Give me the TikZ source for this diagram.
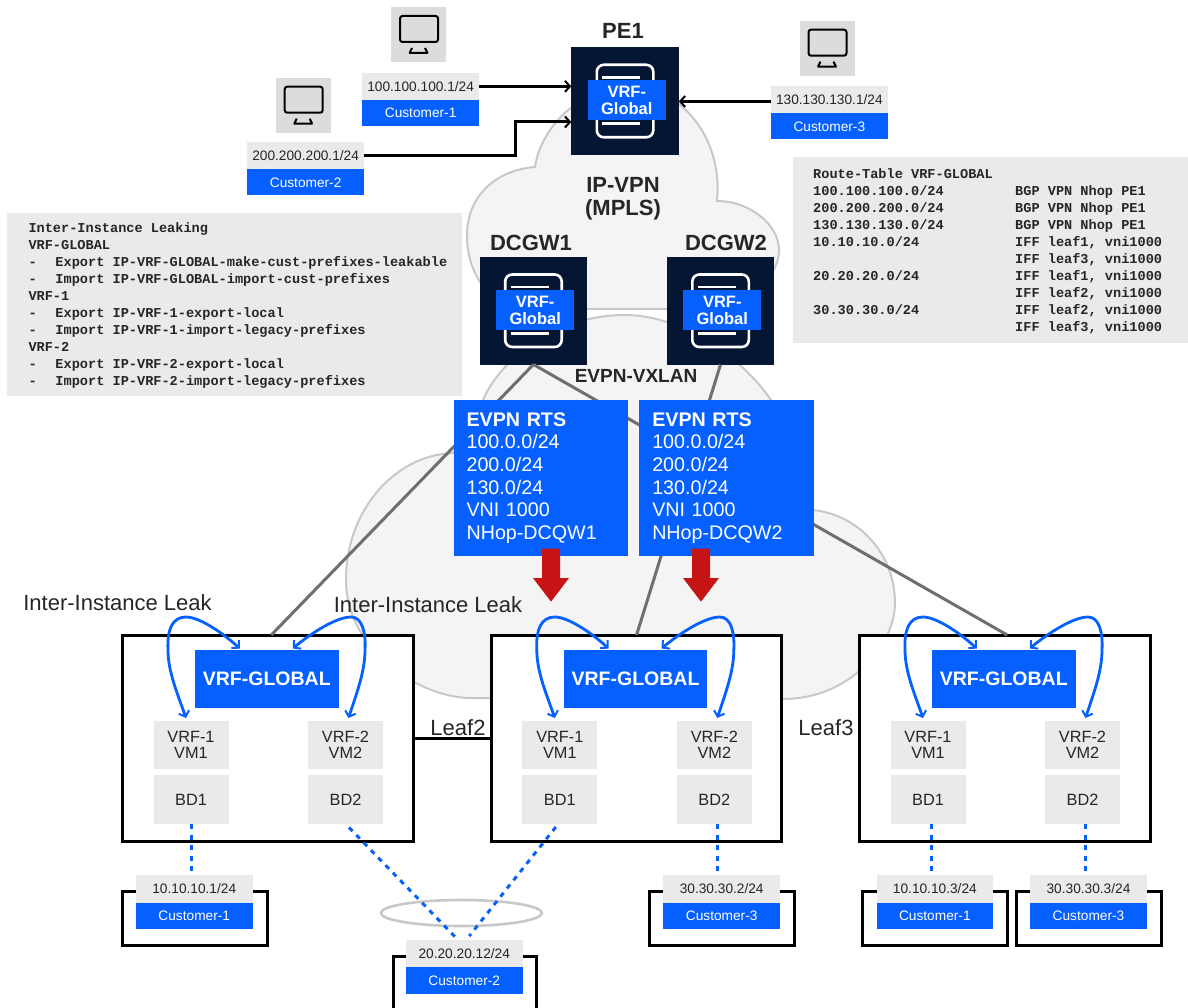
\documentclass[tikz,border=0pt]{standalone}
\usepackage{fontspec}
\setmainfont{Liberation Sans}
\setmonofont{Liberation Mono}
\usetikzlibrary{arrows.meta,calc,shapes.geometric}
\definecolor{ibm}{HTML}{0560FF}
\definecolor{navy}{HTML}{051534}
\definecolor{lab}{HTML}{EAEAEA}
\definecolor{iconbg}{HTML}{DCDCDC}
\definecolor{cloudf}{HTML}{F4F4F4}
\definecolor{cloudl}{HTML}{C8C8C8}
\definecolor{linkg}{HTML}{6F6F6F}
\definecolor{redd}{HTML}{C61414}
\definecolor{ink}{HTML}{262626}
\newcommand{\fs}[2]{\fontsize{#1}{#2}\selectfont}
% box by corners: name, style, x1, y1, x2, y2, text
\newcommand{\bx}[7]{%
  \pgfmathsetmacro\bX{(#3+#5)/2}\pgfmathsetmacro\bY{(#4+#6)/2}%
  \pgfmathsetmacro\bW{#5-#3}\pgfmathsetmacro\bH{#6-#4}%
  \node[#2,minimum width=\bW pt,minimum height=\bH pt] (#1) at (\bX,\bY) {#7};}
% customer tag: prefix name, x1, y1(top of grey), x2, address, customer
\newcommand{\tagbox}[6]{%
  \pgfmathsetmacro\tM{#3+27.3}\pgfmathsetmacro\tB{#3+53.5}%
  \bx{#1ip}{greybox,font=\fs{13.7}{16}}{#2}{#3}{#4}{\tM}{#5}
  \bx{#1cu}{bluebox,font=\fs{13.7}{16}}{#2}{\tM}{#4}{\tB}{#6}}
% monitor icon: name, x, y of top-left
\newcommand{\monitor}[3]{%
  \begin{scope}[shift={(#2,#3)}]
    \bx{#1}{iconbox}{0}{0}{55.3}{55.3}{}
    \draw[black,line width=2pt,rounded corners=2.5pt] (9,9) rectangle (47,35);
    \draw[black,line width=2pt] (18,46) -- (37,46) (18.5,46) -- (21,41) (36.5,46) -- (34,41);
  \end{scope}}
% router icon: name, x, y of top-left
\newcommand{\router}[3]{%
  \begin{scope}[shift={(#2,#3)}]
    \bx{#1}{darkbox}{0}{0}{107.5}{107.5}{}
    \draw[white,line width=2.6pt,rounded corners=7pt] (25.5,17.5) rectangle (82,90);
    \draw[white,line width=2.6pt] (31,30) -- (69,30) (31,76.5) -- (69,76.5);
    \bx{#1v}{bluebox,font=\bfseries\fs{16.5}{17},align=center}{16.5}{33}{94.5}{73}{VRF-\\Global}
  \end{scope}}
\tikzset{
  box0/.style={inner sep=0pt,outer sep=0pt,draw=none},
  greybox/.style={box0,fill=lab,text=ink},
  bluebox/.style={box0,fill=ibm,text=white},
  iconbox/.style={box0,fill=iconbg},
  darkbox/.style={box0,fill=navy},
  codebox/.style={box0,fill=lab},
  codetext/.style={inner sep=0pt,anchor=north west,align=left,text=ink,font=\ttfamily\bfseries\fs{13.6}{17}},
  rtsbox/.style={bluebox,align=left,text width=148.5pt,font=\fs{19.7}{22.6}},
  leafbox/.style={box0,draw=black,line width=3pt,fill=white},
  cloud0/.style={fill=cloudf,draw=cloudl,line width=2pt},
  glink/.style={draw=linkg,line width=3pt},
  blink/.style={draw=black,line width=3pt,-{Straight Barb[length=5pt,width=11pt,line width=2pt]}},
  leak/.style={draw=ibm,line width=2.8pt,{Straight Barb[length=5pt,width=11pt,line width=2pt]}-{Straight Barb[length=5pt,width=11pt,line width=2pt]}},
  dashl/.style={draw=ibm,line width=3pt,dash pattern=on 5pt off 5.5pt},
  hd/.style={inner sep=0pt,text=ink,font=\bfseries\fs{22}{22}},
  ann/.style={inner sep=0pt,text=ink,font=\fs{22}{22}},
  bigred/.style={fill=redd,draw=none},
}
\begin{document}
\begin{tikzpicture}[x=1pt,y=-1pt]
\useasboundingbox (0,0) rectangle (1188,1008);
% clouds
\path[cloud0] (600,100) -- (572,107) .. controls (553,121) and (538,145) .. (535,167)
  .. controls (495,170) and (467,197) .. (467,235) .. controls (467,255) and (472,270) .. (482,285)
  .. controls (500,305) and (530,309) .. (590,309) -- (665,309) .. controls (720,309) and (779,290) .. (779,250)
  .. controls (779,225) and (750,201) .. (717,201) .. controls (721,160) and (705,125) .. (679,104) -- cycle;
\path[cloud0] (453,453) -- (483,400) .. controls (500,360) and (555,315) .. (625,315)
  .. controls (680,315) and (740,355) .. (771,400) -- (813,510)
  .. controls (860,515) and (895,555) .. (895,603) .. controls (895,645) and (850,699) .. (783,699)
  -- (471,698) .. controls (420,698) and (346,650) .. (346,580) .. controls (346,510) and (395,455) .. (453,453) -- cycle;
% text panels
\bx{panelA}{codebox}{7}{213}{461.7}{395.7}{}
\node[codetext] (panelAt) at (28.3,222.5) {Inter-Instance Leaking\\
VRF-GLOBAL\\
\makebox[27pt][l]{-}Export IP-VRF-GLOBAL-make-cust-prefixes-leakable\\
\makebox[27pt][l]{-}Import IP-VRF-GLOBAL-import-cust-prefixes\\
VRF-1\\
\makebox[27pt][l]{-}Export IP-VRF-1-export-local\\
\makebox[27pt][l]{-}Import IP-VRF-1-import-legacy-prefixes\\
VRF-2\\
\makebox[27pt][l]{-}Export IP-VRF-2-export-local\\
\makebox[27pt][l]{-}Import IP-VRF-2-import-legacy-prefixes};
\bx{panelB}{codebox}{792.7}{156.7}{1188}{343.3}{}
\node[codetext] (panelBt) at (813,168.5) {Route-Table VRF-GLOBAL\\
\makebox[202pt][l]{100.100.100.0/24}BGP VPN Nhop PE1\\
\makebox[202pt][l]{200.200.200.0/24}BGP VPN Nhop PE1\\
\makebox[202pt][l]{130.130.130.0/24}BGP VPN Nhop PE1\\
\makebox[202pt][l]{10.10.10.0/24}IFF leaf1, vni1000\\
\makebox[202pt][l]{}IFF leaf3, vni1000\\
\makebox[202pt][l]{20.20.20.0/24}IFF leaf1, vni1000\\
\makebox[202pt][l]{}IFF leaf2, vni1000\\
\makebox[202pt][l]{30.30.30.0/24}IFF leaf2, vni1000\\
\makebox[202pt][l]{}IFF leaf3, vni1000};
% routers
\router{pe1}{571.3}{47.3}
\router{dcgw1}{479.7}{257}
\router{dcgw2}{666.8}{257}
\node[hd] (pe1t) at (623,31) {PE1};
\node[hd] (ipvpn) at (623,198.5) [align=center,font=\bfseries\fs{22}{22.5}] {IP-VPN\\(MPLS)};
\node[hd] (dg1t) at (531,243) {DCGW1};
\node[hd] (dg2t) at (726,243) {DCGW2};
\node[hd,font=\bfseries\fs{19}{19}] (evx) at (636,376) {EVPN-VXLAN};
% top customers
\monitor{m1}{391}{7}
\monitor{m2}{275.7}{77.7}
\monitor{m3}{799.5}{20.7}
\tagbox{tc1}{362.3}{72.7}{479}{100.100.100.1/24}{Customer-1}
\tagbox{tc2}{247.3}{142}{364}{200.200.200.1/24}{Customer-2}
\tagbox{tc3}{771}{86}{887.7}{130.130.130.1/24}{Customer-3}
\coordinate (c3out) at ($(tc3ip.west)+(0,1.8)$);
\coordinate (bendB) at (515,122);
\draw[blink] (tc1ip.east) -- (tc1ip.east -| pe1.west);
\draw[blink] (tc2ip.east) -| (bendB) -- (bendB -| pe1.west);
\draw[blink] (c3out) -- (c3out -| pe1.east);
% leaf frames first so links stop at their top edge
\foreach \i/\o in {1/0,2/368.8,3/737}{
  \begin{scope}[shift={(\o,0)}]
    \bx{leaf\i}{leafbox}{122.5}{635}{413}{841.5}{}
  \end{scope}}
\draw[glink] (dcgw1.south) -- ($(leaf1.north)+(3.5,0)$);
\draw[glink] (dcgw1.south) -- ($(leaf3.north)+(2.5,0)$);
\draw[glink] (dcgw2.south) -- (leaf2.north);
\draw[draw=black,line width=3pt] (leaf1.east) -- (leaf2.west);
% EVPN route boxes
\bx{rts1}{rtsbox}{453.6}{400}{628}{556}{\textbf{EVPN RTS}\\100.0.0/24\\200.0/24\\130.0/24\\VNI 1000\\NHop-DCQW1}
\bx{rts2}{rtsbox}{639}{400}{814}{556}{\textbf{EVPN RTS}\\100.0.0/24\\200.0/24\\130.0/24\\VNI 1000\\NHop-DCQW2}
\foreach \c in {551,701}{
  \path[bigred] (\c-9,548.7) -- (\c+9,548.7) -- (\c+9,578) -- (\c+18,578) -- (\c,601.7) -- (\c-18,578) -- (\c-9,578) -- cycle;
}
% leaf contents
\foreach \i/\o in {1/0,2/368.8,3/737}{
  \begin{scope}[shift={(\o,0)}]
    \bx{g\i}{bluebox,font=\bfseries\fs{19.5}{20}}{195}{649.5}{338.5}{707.5}{VRF-GLOBAL}
    \bx{va\i}{greybox,font=\fs{16.3}{16.5},align=center}{153.5}{721}{228.5}{769}{VRF-1\\VM1}
    \bx{vb\i}{greybox,font=\fs{16.3}{16.5},align=center}{308}{721}{383}{769}{VRF-2\\VM2}
    \bx{da\i}{greybox,font=\fs{16.3}{17}}{153.5}{775}{228.5}{824}{BD1}
    \bx{db\i}{greybox,font=\fs{16.3}{17}}{308}{775}{383}{824}{BD2}
    \draw[leak] ($(g\i.north)+(-27,-1)$) .. controls (224,634) and (200,617) .. (186,617)
       .. controls (172,617) and (167,630) .. (168,650) .. controls (168,672) and (178,695) .. ($(va\i.north)+(-5,-3)$);
    \draw[leak] ($(g\i.north)+(26,-1)$) .. controls (310,634) and (336,617) .. (351,617)
       .. controls (362,617) and (366,632) .. (365,650) .. controls (365,672) and (356,695) .. ($(vb\i.north)+(3,-3)$);
  \end{scope}}
\node[ann] (lk1) at (117.5,603) {Inter-Instance Leak};
\node[ann] (lk2) at (428,605) {Inter-Instance Leak};
\node[ann] (lf2) at (458,728) {Leaf2};
\node[ann] (lf3) at (826,728) {Leaf3};
% bottom customers
\bx{f1}{leafbox}{122.5}{891}{267}{945}{}
\bx{f3}{leafbox}{649.5}{891}{794}{945}{}
\bx{f4}{leafbox}{862.7}{891}{1007}{945}{}
\bx{f5}{leafbox}{1016.6}{891}{1161}{945}{}
\draw[black,line width=3pt] (393,1008) |- (536,956) -- (536,1008);
\tagbox{b1}{136}{875.3}{252.5}{10.10.10.1/24}{Customer-1}
\tagbox{b2}{406}{940}{522.5}{20.20.20.12/24}{Customer-2}
\tagbox{b3}{663.4}{875.3}{780}{30.30.30.2/24}{Customer-3}
\tagbox{b4}{876.7}{875.3}{993}{10.10.10.3/24}{Customer-1}
\tagbox{b5}{1030}{875.3}{1147}{30.30.30.3/24}{Customer-3}
\node[ellipse,draw=cloudl,line width=2.6pt,minimum width=161pt,minimum height=26pt,inner sep=0pt] (lag) at (461.4,913) {};
\draw[dashl] (da1.south) -- (da1.south |- b1ip.north);
\draw[dashl] ($(db1.south)+(3.5,3.5)$) -- ($(b2ip.north)+(-9,-3)$);
\draw[dashl] ($(da2.south)+(-4,3)$) -- ($(b2ip.north)+(5,-4)$);
\coordinate (l2d) at ($(db2.south)+(3.5,0)$);
\draw[dashl] (l2d) -- (l2d |- b3ip.north);
\coordinate (l3a) at ($(da3.south)+(3.5,0)$);
\draw[dashl] (l3a) -- (l3a |- b4ip.north);
\coordinate (l3b) at ($(db3.south)+(2.5,0)$);
\draw[dashl] (l3b) -- (l3b |- b5ip.north);
\end{tikzpicture}
\end{document}
